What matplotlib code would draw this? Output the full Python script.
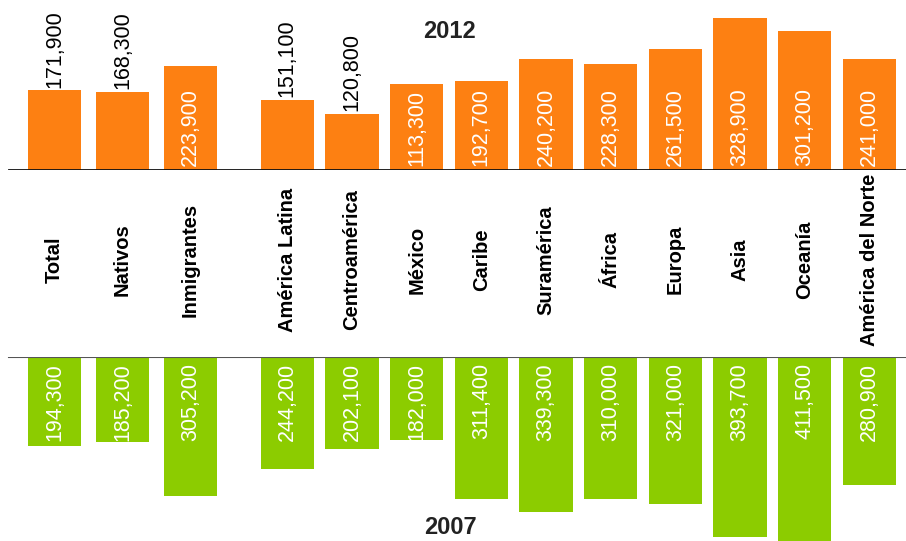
import matplotlib
matplotlib.use("Agg")
import matplotlib.pyplot as plt
import numpy as np

plt.rcParams['font.family'] = ['Liberation Sans', 'DejaVu Sans']

# datos
categorias = ['Total', 'Nativos', 'Inmigrantes', 'América Latina', 'Centroamérica',
              'México', 'Caribe', 'Suramérica', 'África', 'Europa', 'Asia',
              'Oceanía', 'América del Norte']
valores_2012 = [171900, 168300, 223900, 151100, 120800, 113300, 192700,
                240200, 228300, 261500, 328900, 301200, 241000]
valores_2007 = [194300, 185200, 305200, 244200, 202100, 182000, 311400,
                339300, 310000, 321000, 393700, 411500, 280900]
# en el original la barra de México 2012 es más alta que su etiqueta
altura_2012 = list(valores_2012)
altura_2012[5] = 185300

naranja = '#fd8012'
verde = '#8ccc00'

# 3 barras, hueco, 10 barras
x = np.r_[np.arange(3) * 1.05, 3.6 + np.arange(10)]
ancho = 0.82
xlim = (-0.843, 13.167)

fig = plt.figure(figsize=(9.06, 5.41), dpi=100)
H = 541.0

# panel superior (2012)
ax1 = fig.add_axes([0, (H - 170) / H, 1, 170 / H])
ax1.bar(x, altura_2012, width=ancho, color=naranja)
ax1.set_xlim(xlim)
ax1.set_ylim(0, 170 * 2162)
ax1.axhline(0, xmin=9 / 906, color='#111111', lw=1.3)
for xi, h, v in zip(x, altura_2012, valores_2012):
    if h > 180000:
        ax1.annotate(f"{v:,}", (xi, 0), xytext=(0, 3), textcoords='offset points',
                     rotation=90, ha='center', va='bottom', color='white', fontsize=15.5)
    else:
        ax1.annotate(f"{v:,}", (xi, h), xytext=(0, 2), textcoords='offset points',
                     rotation=90, ha='center', va='bottom', color='black', fontsize=15.5)
ax1.text(450 / 906, 1 - 31 / 170, '2012', transform=ax1.transAxes, ha='center',
         va='center', fontsize=17, fontweight='bold', color='#222222')
ax1.axis('off')

# panel inferior (2007)
ax2 = fig.add_axes([0, 0, 1, 184 / H])
ax2.bar(x, [-v for v in valores_2007], width=ancho, color=verde)
ax2.set_xlim(xlim)
ax2.set_ylim(-184 * 2190, 0)
ax2.axhline(0, xmin=9 / 906, color='#555555', lw=1.5)
for xi, v in zip(x, valores_2007):
    ax2.annotate(f"{v:,}", (xi, 0), xytext=(0, -4.5), textcoords='offset points',
                 rotation=90, ha='center', va='top', color='white', fontsize=15.5)
ax2.text(450 / 906, 2 / 184, '2007', transform=ax2.transAxes, ha='center',
         va='bottom', fontsize=17, fontweight='bold', color='#222222')
ax2.axis('off')

# etiquetas de categorías en el centro
ax3 = fig.add_axes([0, 184 / H, 1, 187 / H])
ax3.set_xlim(xlim)
ax3.set_ylim(0, 1)
for xi, c in zip(x, categorias):
    ax3.text(xi, 0.52, c, rotation=90, ha='center', va='center',
             fontsize=14.5, fontweight='bold', color='black')
ax3.axis('off')

fig.savefig('out.png', dpi=100)
